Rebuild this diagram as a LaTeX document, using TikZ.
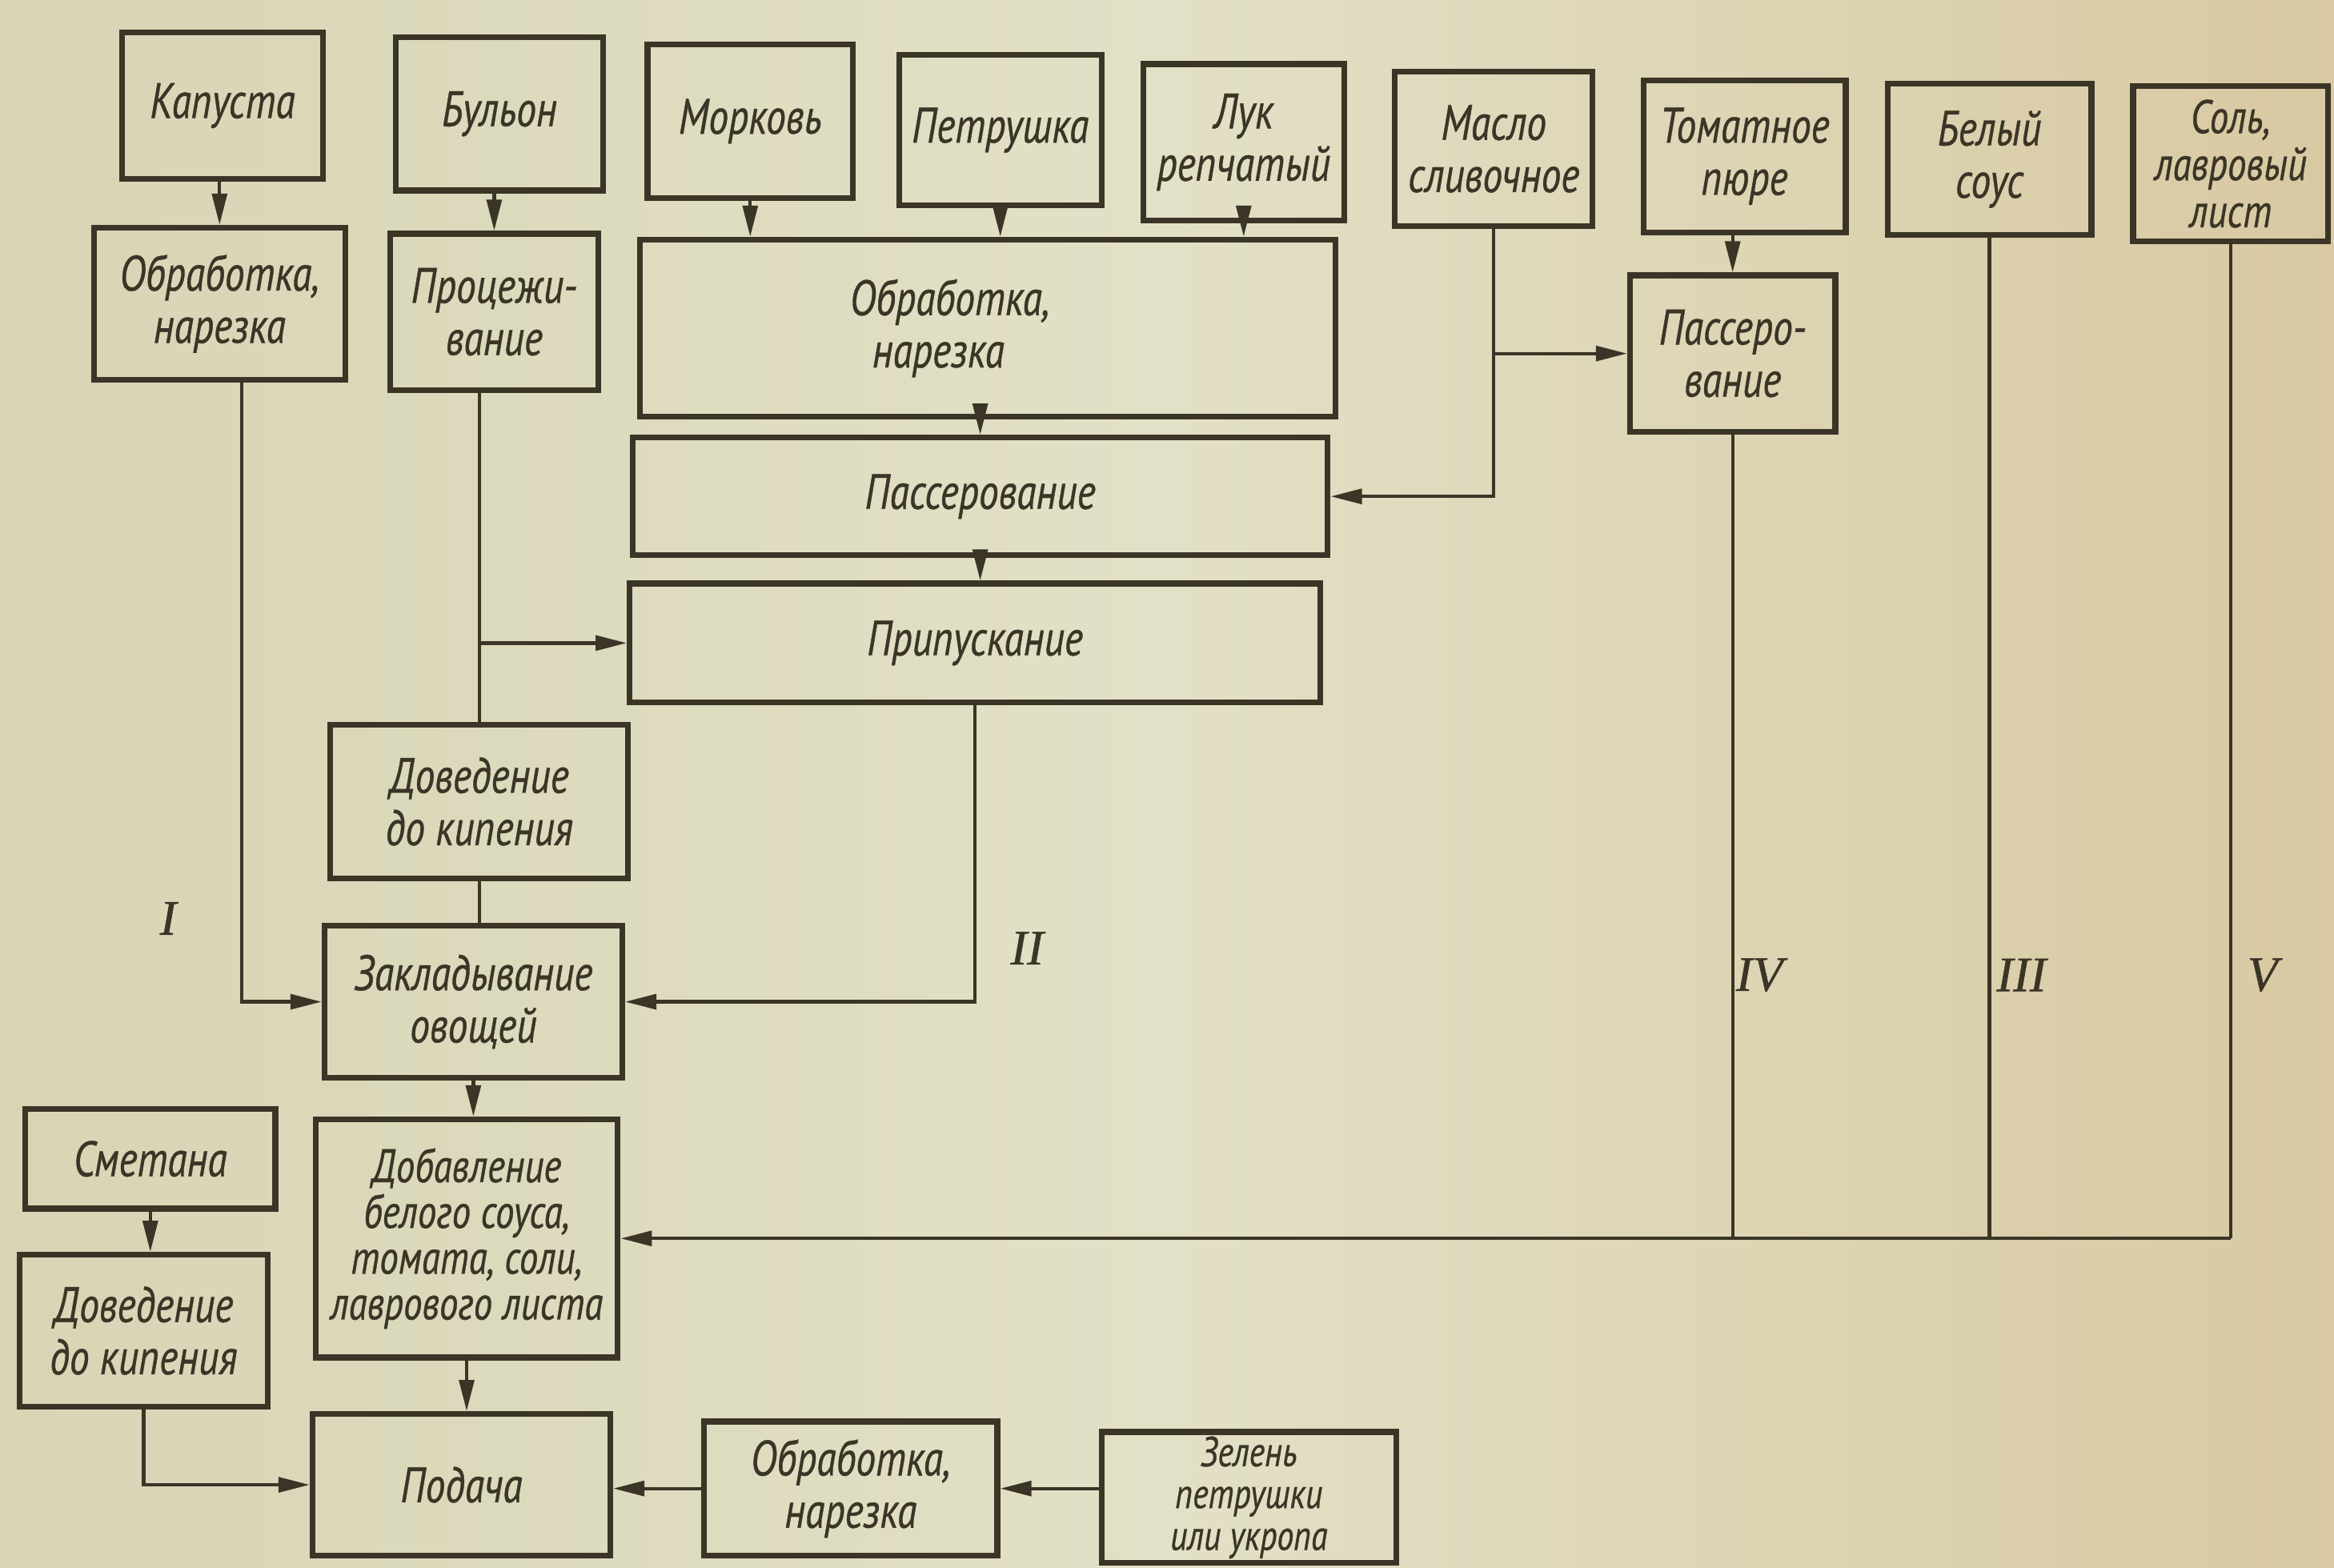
\documentclass[tikz,border=0pt]{standalone}
\usepackage{fontspec}
\usetikzlibrary{arrows.meta,calc}
\newfontfamily\dfont[FakeStretch=0.8,FakeBold=0.6]{PT Sans}
\newfontfamily\rfont[FakeBold=0.8]{Liberation Serif}
\definecolor{ink}{HTML}{3A3526}
\definecolor{paperA}{HTML}{D8D5B5}
\definecolor{paperB}{HTML}{E2E0C6}
\definecolor{paperC}{HTML}{D8C9A2}
\newcommand\dbox[7][]{%
  \pgfmathsetmacro\dcx{(#3+#5)/2}\pgfmathsetmacro\dcy{(#4+#6)/2}%
  \pgfmathsetmacro\dww{(#5-#3)*0.02}\pgfmathsetmacro\dhh{(#6-#4)*0.02}%
  \node[box, minimum width=\dww cm, minimum height=\dhh cm, #1] (#2) at (\dcx,-\dcy) {#7};}
\begin{document}
\begin{tikzpicture}[x=0.02cm,y=0.02cm,
  box/.style={draw=ink, line width=2.2pt, align=center, inner sep=1pt, text=ink,
    font=\dfont\itshape\fontsize{19}{20}\selectfont},
  small/.style={font=\dfont\itshape\fontsize{16}{16}\selectfont},
  line/.style={draw=ink, line width=1.3pt},
  arr/.style={line, -{Triangle[length=0.42cm,width=0.2cm]}},
  rom/.style={text=ink, font=\rfont\itshape\fontsize{19}{19}\selectfont}]
\useasboundingbox (0,0) rectangle (1568,-1053);
\shade[left color=paperA, right color=paperC, middle color=paperB] (0,0) rectangle (1568,-1053);
% top row
\dbox{kap}{82}{22}{217}{120}{Капуста}
\dbox{bul}{266}{25}{405}{128}{Бульон}
\dbox{mor}{435}{30}{573}{133}{Морковь}
\dbox{pet}{604}{37}{740}{138}{Петрушка}
\dbox{luk}{768}{43}{903}{148}{Лук\\репчатый}
\dbox{mas}{937}{48}{1070}{152}{Масло\\сливочное}
\dbox{tom}{1104}{54}{1240}{156}{Томатное\\пюре}
\dbox{bel}{1268}{56}{1405}{158}{Белый\\соус}
\dbox[font=\dfont\itshape\fontsize{18}{18}\selectfont]{sol}{1433}{58}{1564}{162}{Соль,\\лавровый\\лист}
% second row
\dbox{obA}{63}{153}{232}{255}{Обработка,\\нарезка}
\dbox{pro}{262}{157}{402}{262}{Процежи-\\вание}
\dbox[text width=7.5cm, align=left]{obB}{430}{161}{897}{280}{\hspace*{1.9cm}Обработка,\\\hspace*{2.2cm}нарезка}
\dbox{pasB}{1095}{185}{1233}{290}{Пассеро-\\вание}
\dbox{pas}{425}{294}{892}{373}{Пассерование}
\dbox{pri}{423}{392}{887}{472}{Припускание}
\dbox{dov}{222}{487}{422}{590}{Доведение\\до кипения}
\dbox{zak}{218}{622}{418}{724}{Закладывание\\овощей}
\dbox[font=\dfont\itshape\fontsize{18}{17.5}\selectfont]{dob}{212}{752}{415}{912}{Добавление\\белого соуса,\\томата, соли,\\лаврового листа}
\dbox{sme}{17}{745}{185}{812}{Сметана}
\dbox{dovB}{13}{843}{180}{945}{Доведение\\до кипения}
\dbox{pod}{210}{950}{410}{1045}{Подача}
\dbox{obC}{473}{955}{670}{1045}{Обработка,\\нарезка}
\dbox[small]{zel}{740}{962}{938}{1050}{Зелень\\петрушки\\или укропа}
% connectors
\draw[arr] (kap.south -| obA) -- (obA.north);
\draw[arr] (bul.south -| pro) -- (pro.north);
\draw[arr] (mor.south) -- (mor.south |- obB.north);
\draw[arr] (pet.south) -- (pet.south |- obB.north);
\draw[arr] (luk.south) -- (luk.south |- obB.north);
\draw[arr] (tom.south -| pasB) -- (pasB.north);
\draw[arr] (obB.south -| pas) -- (pas.north);
\draw[arr] (pas.south) -- (pas.south |- pri.north);
\draw[arr] (mas.south) |- (pas.east);
\draw[arr] (mas.south |- pasB.west) -- (pasB.west);
\draw[line] (pro.south -| dov) -- (dov.north);
\draw[arr] (dov.north |- pri.west) -- (pri.west);
\draw[line] (dov.south) -- (dov.south |- zak.north);
\draw[arr] ([xshift=0.3cm]obA.south) |- (zak.west);
\draw[arr] (pri.south) |- (zak.east);
\draw[arr] (zak.south) -- (zak.south |- dob.north);
\draw[line] (pasB.south) -- (pasB.south |- dob.east);
\draw[line] (bel.south) -- (bel.south |- dob.east);
\draw[line] (sol.south) -- (sol.south |- dob.east);
\draw[arr] (sol.south |- dob.east) -- (dob.east);
\draw[arr] (sme.south) -- (sme.south |- dovB.north);
\draw[arr] (dovB.south) |- (pod.west);
\draw[arr] (dob.south) -- (dob.south |- pod.north);
\draw[arr] (zel.west |- obC.east) -- (obC.east);
\draw[arr] (obC.west) -- (obC.west -| pod.east);
% labels
\node[rom] (lI) at (113,-617) {I};
\node[rom] (lII) at (690,-637) {II};
\node[rom] (lIV) at (1182,-655) {IV};
\node[rom] (lIII) at (1358,-655) {III};
\node[rom] (lV) at (1520,-655) {V};
\end{tikzpicture}
\end{document}
